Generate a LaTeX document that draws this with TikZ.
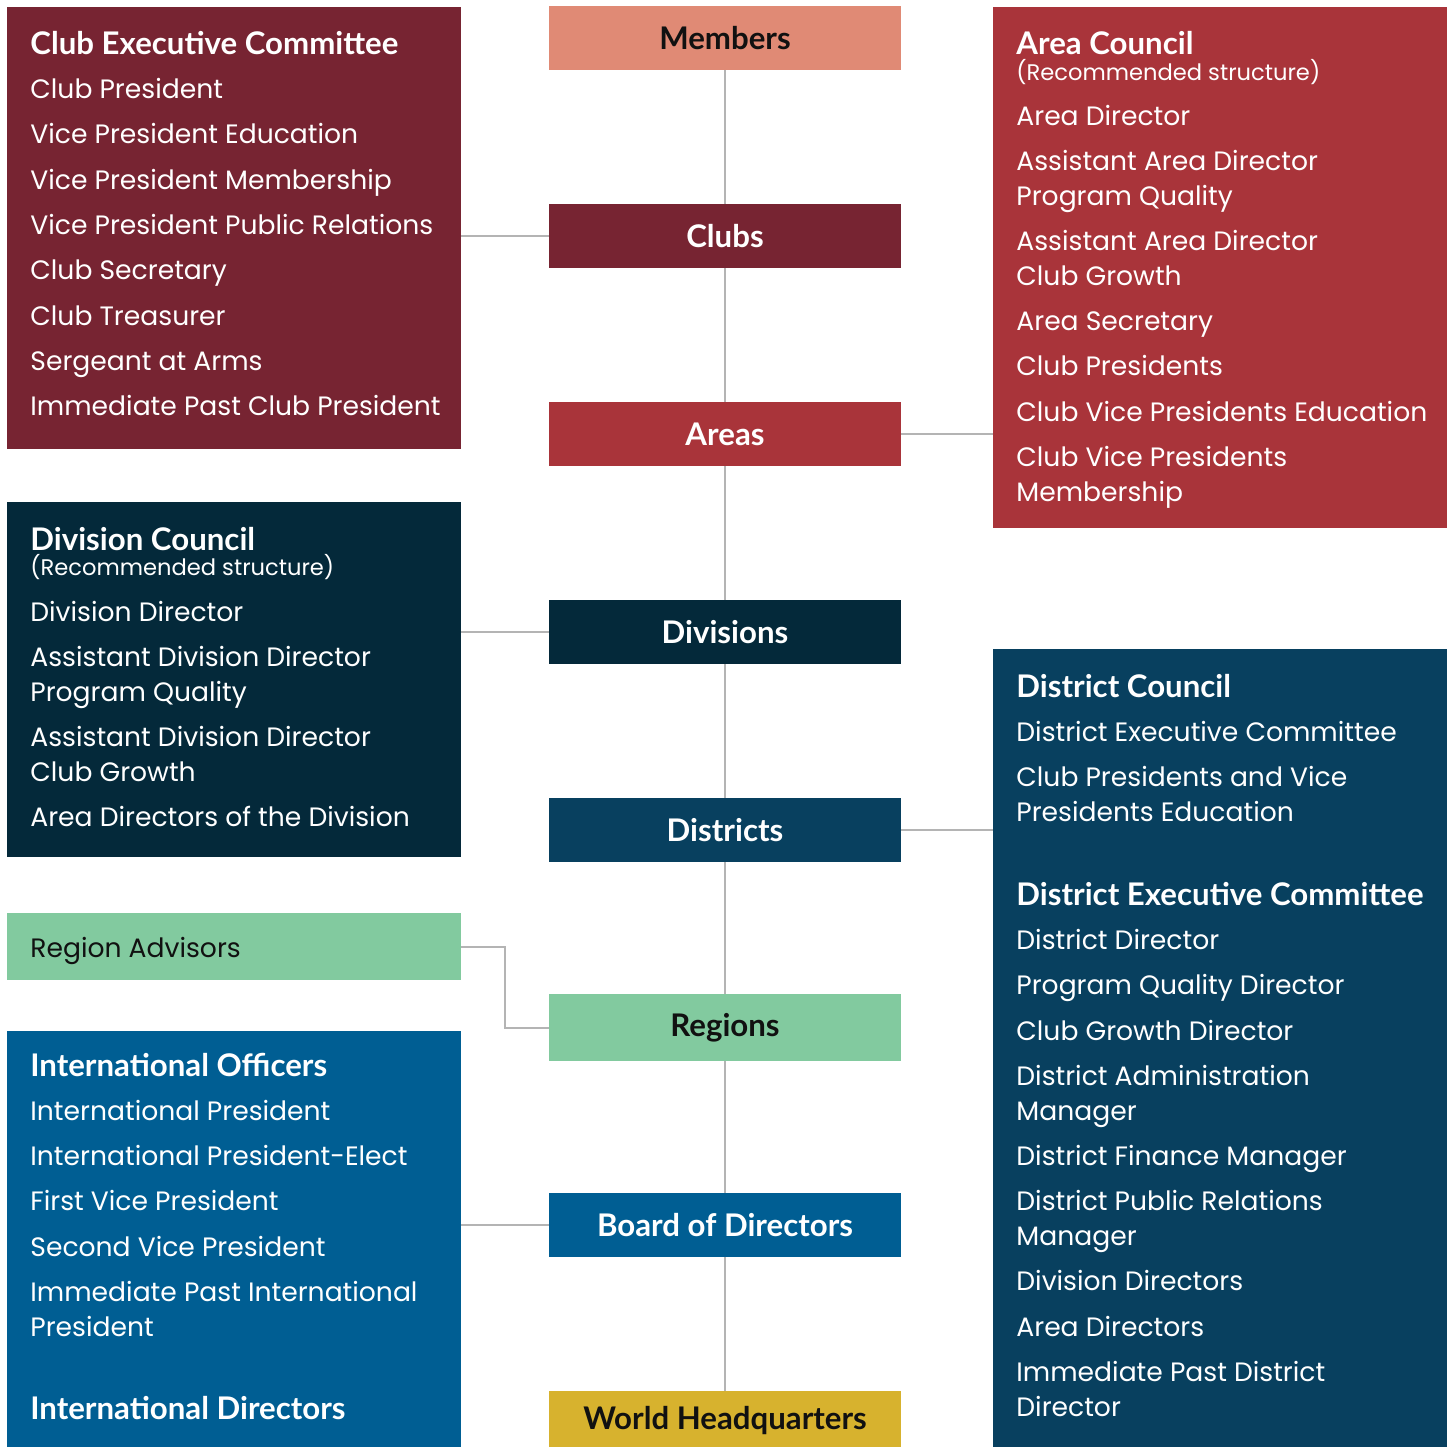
\documentclass[tikz,border=0pt]{standalone}
\usepackage{fontspec}
\setmainfont{Poppins}
\newfontfamily\titlefont{Lato}[BoldFont={Lato Bold}]
\definecolor{cmaroon}{HTML}{772432}
\definecolor{csalmon}{HTML}{E08A75}
\definecolor{cred}{HTML}{A9343A}
\definecolor{cnavy}{HTML}{04293A}
\definecolor{cdist}{HTML}{08405F}
\definecolor{cgreen}{HTML}{82CA9F}
\definecolor{cintl}{HTML}{005E93}
\definecolor{cgold}{HTML}{D7B22E}
\definecolor{cline}{HTML}{B4B4B4}
\definecolor{cink}{HTML}{111111}
\tikzset{
  lvl/.style={rectangle, inner sep=0pt, minimum width=176pt, minimum height=32pt,
    font=\titlefont\bfseries\fontsize{15.6}{18}\selectfont},
  panel/.style={rectangle, inner sep=0pt, minimum width=227pt},
  item/.style={anchor=base west, inner sep=0pt, text=white,
    font=\fontsize{13.3}{16}\selectfont},
  head/.style={anchor=base west, inner sep=0pt, text=white,
    font=\titlefont\bfseries\fontsize{15.6}{18}\selectfont},
  note/.style={anchor=base west, inner sep=0pt, text=white,
    font=\fontsize{11.3}{13}\selectfont},
  conn/.style={draw=cline, line width=1pt},
}
\begin{document}
\begin{tikzpicture}[x=0.5pt, y=-0.5pt]
\useasboundingbox (0,0) rectangle (1453,1447);
% ---- side panels
\node[panel, fill=cmaroon, minimum height=221pt] (clubexec) at (234,228) {};
\node[panel, fill=cnavy, minimum height=177.5pt] (divcouncil) at (234,679.5) {};
\node[panel, fill=cgreen, minimum height=33.5pt] (regadv) at (234,946.5) {};
\node[panel, fill=cintl, minimum height=208pt] (intlof) at (234,1239) {};
\node[panel, fill=cred, minimum height=260.5pt] (areacouncil) at (1220,267.5) {};
\node[panel, fill=cdist, minimum height=399pt] (distcouncil) at (1220,1048) {};
% ---- central levels
\node[lvl, fill=csalmon, text=cink] (members) at (725,38) {Members};
\node[lvl, fill=cmaroon, text=white] (clubs) at (725,236) {Clubs};
\node[lvl, fill=cred, text=white] (areas) at (725,434) {Areas};
\node[lvl, fill=cnavy, text=white] (divisions) at (725,632) {Divisions};
\node[lvl, fill=cdist, text=white] (districts) at (725,830) {Districts};
\node[lvl, fill=cgreen, text=cink, minimum height=33.5pt] (regions) at (725,1027.5) {Regions};
\node[lvl, fill=cintl, text=white] (board) at (725,1225) {Board of Directors};
\node[lvl, fill=cgold, text=cink, minimum height=30pt] (whq) at (725,1421) {World Headquarters};
% ---- connectors
\draw[conn] (members.south) -- (clubs.north);
\draw[conn] (clubs.south) -- (areas.north);
\draw[conn] (areas.south) -- (divisions.north);
\draw[conn] (divisions.south) -- (districts.north);
\draw[conn] (districts.south) -- (regions.north);
\draw[conn] (regions.south) -- (board.north);
\draw[conn] (board.south) -- (whq.north);
\draw[conn] (clubexec.east |- clubs.west) -- (clubs.west);
\draw[conn] (areas.east) -- (areacouncil.west |- areas.east);
\draw[conn] (divcouncil.east |- divisions.west) -- (divisions.west);
\draw[conn] (districts.east) -- (distcouncil.west |- districts.east);
\draw[conn] (regadv.east) -- ++(44,0) |- (regions.west);
\draw[conn] (intlof.east |- board.west) -- (board.west);
% ---- Club Executive Committee
\node[head] (ce0) at (30,54) {Club Executive Committee};
\node[item] (ce1) at (30,98) {Club President};
\node[item] (ce2) at (30,143) {Vice President Education};
\node[item] (ce3) at (30,189) {Vice President Membership};
\node[item] (ce4) at (30,234) {Vice President Public Relations};
\node[item] (ce5) at (30,279) {Club Secretary};
\node[item] (ce6) at (30,325) {Club Treasurer};
\node[item] (ce7) at (30,370) {Sergeant at Arms};
\node[item] (ce8) at (30,415) {Immediate Past Club President};
% ---- Area Council
\node[head] (ac0) at (1016,54) {Area Council};
\node[note] (ac1) at (1016,80) {(Recommended structure)};
\node[item] (ac2) at (1016,125) {Area Director};
\node[item] (ac3) at (1016,170) {Assistant Area Director};
\node[item] (ac4) at (1016,205) {Program Quality};
\node[item] (ac5) at (1016,250) {Assistant Area Director};
\node[item] (ac6) at (1016,285) {Club Growth};
\node[item] (ac7) at (1016,330) {Area Secretary};
\node[item] (ac8) at (1016,375) {Club Presidents};
\node[item] (ac9) at (1016,421) {Club Vice Presidents Education};
\node[item] (ac10) at (1016,466) {Club Vice Presidents};
\node[item] (ac11) at (1016,501) {Membership};
% ---- Division Council
\node[head] (dc0) at (30,550) {Division Council};
\node[note] (dc1) at (30,575) {(Recommended structure)};
\node[item] (dc2) at (30,621) {Division Director};
\node[item] (dc3) at (30,666) {Assistant Division Director};
\node[item] (dc4) at (30,701) {Program Quality};
\node[item] (dc5) at (30,746) {Assistant Division Director};
\node[item] (dc6) at (30,781) {Club Growth};
\node[item] (dc7) at (30,826) {Area Directors of the Division};
% ---- Region Advisors
\node[item, text=cink] (ra0) at (30,957) {Region Advisors};
% ---- International Officers
\node[head] (io0) at (30,1076) {International Officers};
\node[item] (io1) at (30,1120) {International President};
\node[item] (io2) at (30,1165) {International President-Elect};
\node[item] (io3) at (30,1210) {First Vice President};
\node[item] (io4) at (30,1256) {Second Vice President};
\node[item] (io5) at (30,1301) {Immediate Past International};
\node[item] (io6) at (30,1336) {President};
\node[head] (io7) at (30,1419) {International Directors};
% ---- District Council
\node[head] (dd0) at (1016,697) {District Council};
\node[item] (dd1) at (1016,741) {District Executive Committee};
\node[item] (dd2) at (1016,786) {Club Presidents and Vice};
\node[item] (dd3) at (1016,821) {Presidents Education};
\node[head] (dd4) at (1016,905) {District Executive Committee};
\node[item] (dd5) at (1016,949) {District Director};
\node[item] (dd6) at (1016,994) {Program Quality Director};
\node[item] (dd7) at (1016,1040) {Club Growth Director};
\node[item] (dd8) at (1016,1085) {District Administration};
\node[item] (dd9) at (1016,1120) {Manager};
\node[item] (dd10) at (1016,1165) {District Finance Manager};
\node[item] (dd11) at (1016,1210) {District Public Relations};
\node[item] (dd12) at (1016,1245) {Manager};
\node[item] (dd13) at (1016,1290) {Division Directors};
\node[item] (dd14) at (1016,1336) {Area Directors};
\node[item] (dd15) at (1016,1381) {Immediate Past District};
\node[item] (dd16) at (1016,1416) {Director};
\end{tikzpicture}
\end{document}
